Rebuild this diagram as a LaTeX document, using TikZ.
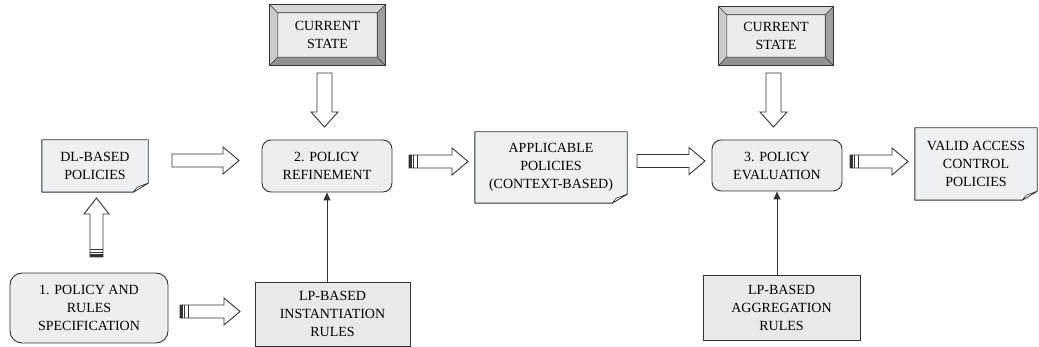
\documentclass[tikz,border=0pt]{standalone}
\usepackage{fontspec}
\setmainfont{Liberation Serif}
\usetikzlibrary{arrows.meta,backgrounds,calc}
\definecolor{ln}{HTML}{333333}
\definecolor{notefill}{HTML}{EDF1F3}
\definecolor{roundfill}{HTML}{EEEEEE}
\definecolor{rectfill}{HTML}{E9E9E9}
\definecolor{bevtop}{HTML}{D6D6D6}
\definecolor{bevleft}{HTML}{CACACA}
\definecolor{bevright}{HTML}{A0A0A0}
\definecolor{bevbot}{HTML}{939393}
\definecolor{bevin}{HTML}{ECECEC}

\newcommand\harrow[3]{%
  \draw[barrow] (#1,#3-6.5) -- (#2-16,#3-6.5) -- (#2-16,#3-13.5) -- (#2,#3) -- (#2-16,#3+13.5) -- (#2-16,#3+6.5) -- (#1,#3+6.5) -- cycle;}
\newcommand\harrowS[3]{%
  \harrow{#1}{#2}{#3}%
  \fill[ln] (#1,#3-6.5) rectangle (#1+2.5,#3+6.5);
  \draw[draw=ln,line width=0.6pt] (#1+4.5,#3-6.5) -- (#1+4.5,#3+6.5) (#1+8,#3-6.5) -- (#1+8,#3+6.5);}
\newcommand\varrowdown[3]{%
  \draw[barrow] (#1-7.5,#2) -- (#1+7.5,#2) -- (#1+7.5,#3-15) -- (#1+13.5,#3-15) -- (#1,#3) -- (#1-13.5,#3-15) -- (#1-7.5,#3-15) -- cycle;}
\newcommand\varrowupS[3]{%
  \draw[barrow] (#1-6.5,#2) -- (#1+6.5,#2) -- (#1+6.5,#3+16) -- (#1+12.5,#3+16) -- (#1,#3) -- (#1-12.5,#3+16) -- (#1-6.5,#3+16) -- cycle;
  \fill[ln] (#1-6.5,#2) rectangle (#1+6.5,#2-2.5);
  \draw[draw=ln,line width=0.6pt] (#1-6.5,#2-4.5) -- (#1+6.5,#2-4.5) (#1-6.5,#2-8) -- (#1+6.5,#2-8);}
\newcommand\notebg[1]{%
  \draw[draw=ln, fill=notefill, line width=0.9pt, line join=round] (#1.north west) -- (#1.north east) -- ([yshift=9pt]#1.south east) -- ([xshift=-15pt]#1.south east) -- (#1.south west) -- cycle;
  \draw[draw=ln, fill=white, line width=0.6pt, line join=round] ([yshift=9pt]#1.south east) -- ([xshift=-11pt,yshift=5pt]#1.south east) -- ([xshift=-15pt]#1.south east) -- cycle;}
\newcommand\bevelbg[1]{%
  \fill[bevbot] (#1.north west) rectangle (#1.south east);
  \fill[bevtop] (#1.north west) -- (#1.north east) -- ([xshift=-8pt,yshift=-8pt]#1.north east) -- ([xshift=8pt,yshift=-8pt]#1.north west) -- cycle;
  \fill[bevleft] (#1.north west) -- (#1.south west) -- ([xshift=8pt,yshift=8pt]#1.south west) -- ([xshift=8pt,yshift=-8pt]#1.north west) -- cycle;
  \fill[bevright] (#1.north east) -- (#1.south east) -- ([xshift=-8pt,yshift=8pt]#1.south east) -- ([xshift=-8pt,yshift=-8pt]#1.north east) -- cycle;
  \fill[bevin] ([xshift=8pt,yshift=-8pt]#1.north west) rectangle ([xshift=-8pt,yshift=8pt]#1.south east);
  \draw[draw=ln, line width=0.9pt] (#1.north west) rectangle (#1.south east);
  \draw[draw=ln, line width=0.6pt] ([xshift=8pt,yshift=-8pt]#1.north west) rectangle ([xshift=-8pt,yshift=8pt]#1.south east)
    (#1.north west) -- ([xshift=8pt,yshift=-8pt]#1.north west)
    (#1.north east) -- ([xshift=-8pt,yshift=-8pt]#1.north east)
    (#1.south west) -- ([xshift=8pt,yshift=8pt]#1.south west)
    (#1.south east) -- ([xshift=-8pt,yshift=8pt]#1.south east);}

\begin{document}
\begin{tikzpicture}[x=1pt,y=-1pt,
  lbl/.style={align=center, font=\fontsize{14}{18}\selectfont, text=black, inner sep=0pt},
  roundbox/.style={lbl, draw=ln, fill=roundfill, rounded corners=9pt, line width=0.9pt},
  rectbox/.style={lbl, draw=ln, fill=rectfill, line width=0.9pt},
  ghost/.style={lbl},
  barrow/.style={draw=ln, fill=white, line width=0.9pt, line join=miter},
  thinarrow/.style={draw=ln, line width=1pt, -{Triangle[width=7pt,length=8pt]}}
]
\useasboundingbox (0,0) rectangle (1039,347);

\node[ghost, minimum width=106pt, minimum height=52pt] (dl) at (95,166) {DL-BASED\\POLICIES};
\node[roundbox, minimum width=130pt, minimum height=52pt] (ref) at (327,166) {2. POLICY\\REFINEMENT};
\node[roundbox, minimum width=130pt, minimum height=51pt] (eval) at (777,165.5) {3. POLICY\\EVALUATION};
\node[roundbox, minimum width=158pt, minimum height=70pt, rounded corners=12pt] (spec) at (89,308) {1. POLICY AND\\RULES\\SPECIFICATION};
\node[rectbox, minimum width=155pt, minimum height=64pt] (inst) at (332.5,314) {LP-BASED\\INSTANTIATION\\RULES};
\node[rectbox, minimum width=157pt, minimum height=65pt] (agg) at (781.5,307.5) {LP-BASED\\AGGREGATION\\RULES};
\node[ghost, minimum width=152pt, minimum height=71pt] (app) at (551,167.5) {APPLICABLE\\POLICIES\\(CONTEXT-BASED)};
\node[ghost, minimum width=122pt, minimum height=72pt] (valid) at (976,164) {VALID ACCESS\\CONTROL\\POLICIES};
\node[ghost, minimum width=115pt, minimum height=60pt] (cs1) at (327.5,35) {CURRENT\\STATE};
\node[ghost, minimum width=114pt, minimum height=58pt] (cs2) at (776,36) {CURRENT\\STATE};

\begin{pgfonlayer}{background}
  \notebg{dl}
  \notebg{app}
  \notebg{valid}
  \bevelbg{cs1}
  \bevelbg{cs2}
\end{pgfonlayer}

\harrow{172}{239}{160.5}
\harrowS{409}{468}{161.5}
\harrow{637}{705}{161}
\harrowS{850}{908}{161.5}
\harrowS{180}{240}{311.5}
\varrowdown{324.5}{73}{127}
\varrowdown{773.5}{73}{127}
\varrowupS{96.5}{257}{198}

\draw[thinarrow] (ref.south |- inst.north) -- (ref.south);
\draw[thinarrow] (eval.south |- agg.north) -- (eval.south);
\end{tikzpicture}
\end{document}
